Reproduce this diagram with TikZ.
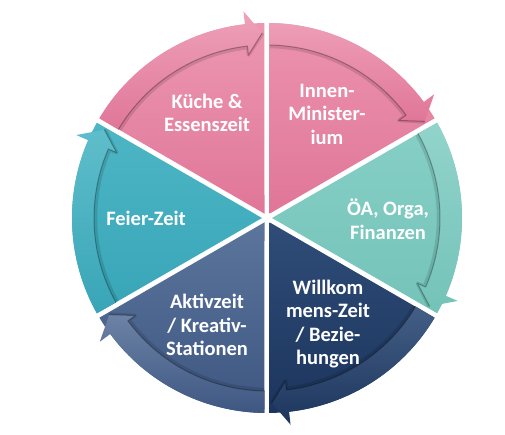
\documentclass[tikz,border=0pt]{standalone}
\usepackage{fontspec}
\setmainfont{Carlito}
\definecolor{kuecheT}{HTML}{EC97B1}
\definecolor{kuecheB}{HTML}{E07699}
\definecolor{innenT}{HTML}{EC93AE}
\definecolor{innenB}{HTML}{E07699}
\definecolor{oeaT}{HTML}{86CFC6}
\definecolor{oeaB}{HTML}{74C3B9}
\definecolor{willT}{HTML}{2F4D78}
\definecolor{willB}{HTML}{1C355D}
\definecolor{aktivT}{HTML}{5C759C}
\definecolor{aktivB}{HTML}{3E5782}
\definecolor{feierT}{HTML}{4DB6C5}
\definecolor{feierB}{HTML}{38A5B7}
\tikzset{
  lbl/.style={text=white, font=\bfseries\fontsize{20.5}{23.5}\selectfont, align=center, inner sep=0pt},
  segshadowsoft/.style={black, opacity=0.12, line width=3.5pt, line join=round, line cap=round},
  segshadow/.style={black, opacity=0.3, line width=1pt, line join=round},
}
% #1 start angle (ccw side), #2 end angle (cw side, arrow head), #3 top colour, #4 bottom colour
\newcommand\cycseg[4]{%
  \shade[top color=#3, bottom color=#4]
    ({(#1+#2)/2}:5) -- ({#1-0.75}:195)
      arc[start angle={#1-0.75}, end angle={#2+0.75}, radius=195] -- cycle;
  \begin{scope}
    \clip ({(#1+#2)/2}:5) -- ({#1-0.75}:240)
      arc[start angle={#1-0.75}, end angle={#2+0.3}, radius=240] -- cycle;
    \draw[segshadowsoft] ({#1-0.75}:171.5)
      arc[start angle={#1-0.75}, end angle={#2+6.5}, radius=171.5]
      -- ({#2+6.5}:164) -- ({#2+1.5}:184);
  \end{scope}
  \shade[top color=#3!90!white, bottom color=#4]
    ({#1-0.75}:195)
      arc[start angle={#1-0.75}, end angle={#2+6.5}, radius=195]
      -- ({#2+6.5}:208) -- ({#2+1.5}:185) -- ({#2+6.5}:164) -- ({#2+6.5}:173)
      arc[start angle={#2+6.5}, end angle={#1-0.75}, radius=173] -- cycle;
  \draw[segshadow] ({#1-0.75}:173)
      arc[start angle={#1-0.75}, end angle={#2+6.5}, radius=173]
      -- ({#2+6.5}:164) -- ({#2+1.5}:185);
}
\begin{document}
\begin{tikzpicture}[x=1pt, y=1pt]
\useasboundingbox[fill=white] (0,0) rectangle (505,435);
\begin{scope}[shift={(267,217)}]
  \cycseg{150}{90}{kuecheT}{kuecheB}
  \cycseg{90}{30}{innenT}{innenB}
  \cycseg{30}{-30}{oeaT}{oeaB}
  \cycseg{-30}{-90}{willT}{willB}
  \cycseg{-90}{-150}{aktivT}{aktivB}
  \cycseg{210}{150}{feierT}{feierB}
\end{scope}
\node[lbl] (kueche) at (207,322) {Küche \&\\Essenszeit};
\node[lbl] (innen) at (327,321) {Innen-\\Minister-\\ium};
\node[lbl] (oea) at (388,216) {ÖA, Orga,\\Finanzen};
\node[lbl] (feier) at (146,217) {Feier-Zeit};
\node[lbl] (willkommen) at (328,111) {Willkom\\mens-Zeit\\/ Bezie-\\hungen};
\node[lbl] (aktiv) at (207,110) {Aktivzeit\\/ Kreativ-\\Stationen};
\end{tikzpicture}
\end{document}
